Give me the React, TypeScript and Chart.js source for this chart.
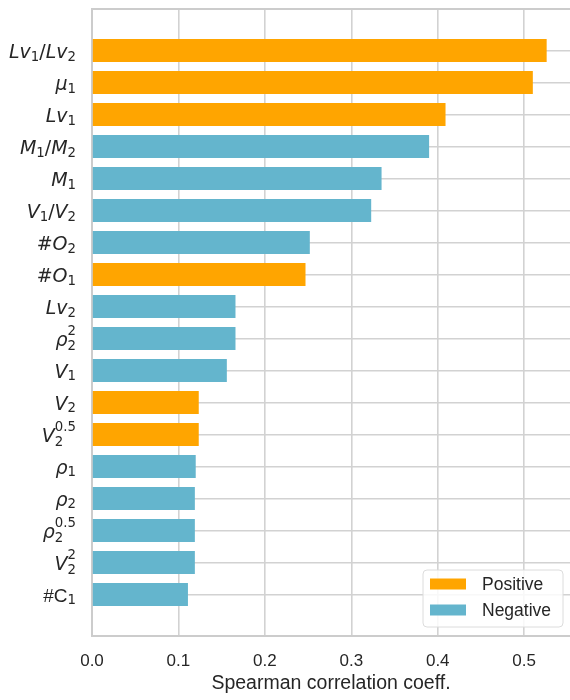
import { useEffect, useRef } from "react";
import { Chart, registerables } from "chart.js";

Chart.register(...registerables);

// Feature names in mathtext-like notation ($...$ = math, _ / ^ = sub/superscript)
const featureLabels = [
  "$Lv_1/Lv_2$",
  "$\\mu_1$",
  "$Lv_1$",
  "$M_1/M_2$",
  "$M_1$",
  "$V_1/V_2$",
  "$\\#O_2$",
  "$\\#O_1$",
  "$Lv_2$",
  "$\\rho_2^2$",
  "$V_1$",
  "$V_2$",
  "$V_2^{0.5}$",
  "$\\rho_1$",
  "$\\rho_2$",
  "$\\rho_2^{0.5}$",
  "$V_2^2$",
  "#C$_1$",
];

// Absolute Spearman correlation per feature
const correlations = [
  0.526, 0.51, 0.409, 0.39, 0.335, 0.323, 0.252, 0.247, 0.166, 0.166, 0.156,
  0.1235, 0.1235, 0.12, 0.119, 0.119, 0.119, 0.111,
];

// Sign of each correlation
const directions = [
  "Positive", "Positive", "Positive", "Negative", "Negative", "Negative",
  "Negative", "Positive", "Negative", "Negative", "Negative", "Positive",
  "Positive", "Negative", "Negative", "Negative", "Negative", "Negative",
];

const seriesNames = ["Positive", "Negative"];
const seriesColors = ["#FFA500", "#64B5CD"];

const xTickValues = [0, 0.1, 0.2, 0.3, 0.4, 0.5];
const xMax = 0.553;
const axisTitle = "Spearman correlation coeff.";

const TEXT_COLOR = "#262626";
const GRID_COLOR = "#d2d2d2";
const SPINE_COLOR = "#cccccc";
const MATH_FONT = '"DejaVu Sans"';
const TEXT_FONT = '"Liberation Sans", Arial, sans-serif';
const GREEK: Record<string, string> = { mu: "μ", rho: "ρ" };

type Atom = { text: string; italic: boolean; math: boolean; sub?: string; sup?: string };

function parseLabel(src: string): Atom[] {
  const atoms: Atom[] = [];
  src.split("$").forEach((part, pi) => {
    if (pi % 2 === 0) {
      if (part) atoms.push({ text: part, italic: false, math: false });
      return;
    }
    let i = 0;
    const readGroup = () => {
      if (part[i] === "{") {
        const end = part.indexOf("}", i);
        const g = part.slice(i + 1, end);
        i = end + 1;
        return g;
      }
      return part[i++];
    };
    while (i < part.length) {
      const c = part[i];
      if (c === "\\") {
        i++;
        if (/[A-Za-z]/.test(part[i])) {
          let name = "";
          while (i < part.length && /[A-Za-z]/.test(part[i])) name += part[i++];
          atoms.push({ text: GREEK[name] ?? name, italic: true, math: true });
        } else {
          atoms.push({ text: part[i++], italic: false, math: true });
        }
      } else if (c === "_" || c === "^") {
        i++;
        const g = readGroup();
        let last = atoms[atoms.length - 1];
        if (!last) {
          last = { text: "", italic: false, math: true };
          atoms.push(last);
        }
        if (c === "_") last.sub = g;
        else last.sup = g;
      } else {
        atoms.push({ text: c, italic: /[A-Za-z]/.test(c), math: true });
        i++;
      }
    }
  });
  return atoms;
}

const atomFont = (a: Atom, size: number) =>
  `${a.italic ? "italic " : ""}${size}px ${a.math ? MATH_FONT : TEXT_FONT}`;

function drawMathLabel(
  ctx: CanvasRenderingContext2D,
  src: string,
  right: number,
  baseline: number,
  size: number
) {
  const atoms = parseLabel(src);
  const scriptSize = size * 0.7;
  const scriptFont = `${scriptSize}px ${MATH_FONT}`;
  const widths = atoms.map((a) => {
    ctx.font = atomFont(a, size);
    const base = ctx.measureText(a.text).width;
    ctx.font = scriptFont;
    const sw = Math.max(
      a.sub ? ctx.measureText(a.sub).width : 0,
      a.sup ? ctx.measureText(a.sup).width : 0
    );
    return { base, sw };
  });
  const total = widths.reduce((s, w) => s + w.base + w.sw, 0);
  let x = right - total;
  ctx.textAlign = "left";
  ctx.textBaseline = "alphabetic";
  ctx.fillStyle = TEXT_COLOR;
  atoms.forEach((a, k) => {
    ctx.font = atomFont(a, size);
    ctx.fillText(a.text, x, baseline);
    x += widths[k].base;
    ctx.font = scriptFont;
    if (a.sub) ctx.fillText(a.sub, x, baseline + (a.sup ? 4 : 2.5));
    if (a.sup) ctx.fillText(a.sup, x, baseline - 10.5);
    x += widths[k].sw;
  });
}

const featureLabelPlugin = {
  id: "featureLabels",
  afterDraw(chart: any) {
    const { ctx, chartArea } = chart;
    const yScale = chart.scales.y;
    ctx.save();
    featureLabels.forEach((lab, i) => {
      const yc = yScale.getPixelForValue(i);
      drawMathLabel(ctx, lab, 76, yc + 7.5, 19);
    });
    // top spine
    ctx.strokeStyle = SPINE_COLOR;
    ctx.lineWidth = 2;
    ctx.beginPath();
    ctx.moveTo(chartArea.left - 1, chartArea.top);
    ctx.lineTo(chartArea.right, chartArea.top);
    ctx.stroke();
    ctx.restore();
  },
};

const insetLegendPlugin = {
  id: "insetLegend",
  afterDraw(chart: any) {
    const { ctx } = chart;
    const bx = 423, by = 570, bw = 140, bh = 57, r = 4;
    ctx.save();
    ctx.beginPath();
    ctx.moveTo(bx + r, by);
    ctx.arcTo(bx + bw, by, bx + bw, by + bh, r);
    ctx.arcTo(bx + bw, by + bh, bx, by + bh, r);
    ctx.arcTo(bx, by + bh, bx, by, r);
    ctx.arcTo(bx, by, bx + bw, by, r);
    ctx.closePath();
    ctx.fillStyle = "rgba(255,255,255,0.85)";
    ctx.fill();
    ctx.strokeStyle = "#dcdcdc";
    ctx.lineWidth = 1;
    ctx.stroke();
    chart.data.datasets.forEach((ds: any, k: number) => {
      const cy = 584 + k * 26;
      ctx.fillStyle = ds.backgroundColor;
      ctx.fillRect(430, cy - 5.5, 36, 11);
      ctx.fillStyle = TEXT_COLOR;
      ctx.font = `17.5px ${TEXT_FONT}`;
      ctx.textAlign = "left";
      ctx.textBaseline = "middle";
      ctx.fillText(ds.label, 482, cy + 1);
    });
    ctx.restore();
  },
};

export default function App() {
  const canvasRef = useRef<HTMLCanvasElement | null>(null);

  useEffect(() => {
    if (!canvasRef.current) return;
    const datasets = seriesNames.map((name, k) => ({
      label: name,
      backgroundColor: seriesColors[k],
      borderWidth: 0,
      grouped: false,
      categoryPercentage: 1,
      barPercentage: 0.72,
      data: correlations
        .map((v, i) => (directions[i] === name ? { x: v, y: i } : null))
        .filter((p) => p !== null),
    }));

    const chart = new Chart(canvasRef.current, {
      type: "bar",
      data: { datasets: datasets as any },
      plugins: [featureLabelPlugin, insetLegendPlugin],
      options: {
        indexAxis: "y",
        animation: false,
        responsive: false,
        devicePixelRatio: 1,
        layout: { padding: { top: 9, left: 0, right: 0, bottom: 0 } },
        plugins: {
          legend: { display: false },
          tooltip: { enabled: false },
          title: { display: false },
        },
        scales: {
          x: {
            type: "linear",
            position: "bottom",
            min: 0,
            max: xMax,
            afterBuildTicks: (axis: any) => {
              axis.ticks = xTickValues.map((v) => ({ value: v }));
            },
            afterFit: (axis: any) => {
              axis.height = 64;
            },
            grid: { color: GRID_COLOR, lineWidth: 1.6, drawTicks: false },
            border: { display: true, color: SPINE_COLOR, width: 2 },
            ticks: {
              padding: 15,
              color: TEXT_COLOR,
              font: { family: TEXT_FONT, size: 17 },
              callback: (v: any) => Number(v).toFixed(1),
            },
            title: {
              display: true,
              text: axisTitle,
              color: TEXT_COLOR,
              font: { family: TEXT_FONT, size: 19.5 },
              padding: { top: 0, bottom: 4.2 },
            },
          },
          y: {
            type: "linear",
            reverse: true,
            min: -1.3,
            max: 18.3,
            offset: false,
            afterBuildTicks: (axis: any) => {
              axis.ticks = featureLabels.map((_, i) => ({ value: i }));
            },
            afterFit: (axis: any) => {
              axis.width = 92;
            },
            grid: { color: GRID_COLOR, lineWidth: 1.5, drawTicks: false, offset: false },
            border: { display: true, color: SPINE_COLOR, width: 2 },
            ticks: { display: false },
          },
        },
      } as any,
    });
    return () => chart.destroy();
  }, []);

  return (
    <div style={{ position: "absolute", left: 0, top: 0, width: 570, height: 700, background: "#fff" }}>
      <canvas ref={canvasRef} width={570} height={700} style={{ width: 570, height: 700 }} />
    </div>
  );
}
